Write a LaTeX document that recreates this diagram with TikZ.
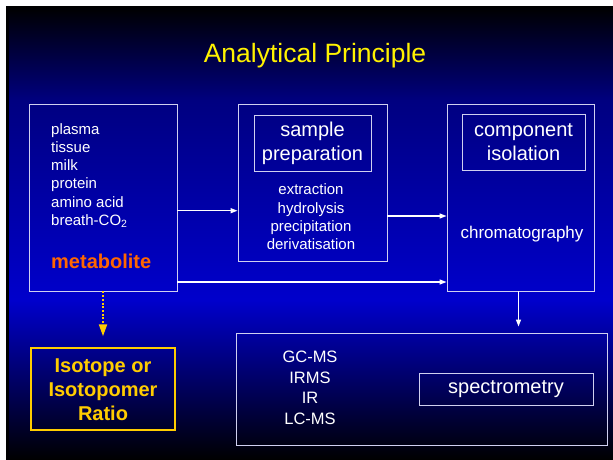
\documentclass[tikz,border=0pt]{standalone}
\usepackage{fontspec}
\setmainfont{Liberation Sans}
\usetikzlibrary{arrows.meta}
\definecolor{edge}{HTML}{D0D0F0}
\definecolor{gold}{HTML}{FFCC00}
\definecolor{orng}{HTML}{FF6600}
\definecolor{navy}{HTML}{000080}
\definecolor{brite}{HTML}{0000CC}
\begin{document}
\begin{tikzpicture}[x=1pt,y=-1pt,
  box/.style={draw=edge,line width=0.9pt,inner sep=0pt},
  lst/.style={text=white,inner sep=0pt,align=center,font=\fontsize{15}{18.3}\selectfont},
  hd/.style={box,text=white,align=center,font=\fontsize{20}{24}\selectfont},
  a/.style={-{Triangle[length=7pt,width=5pt]},white,line width=1.3pt},
  ya/.style={-{Triangle[length=12pt,width=8pt]},gold,line width=2pt,dash pattern=on 2pt off 1.7pt}]
% background
\fill[white] (0,0) rectangle (613,460);
\shade[top color=black,bottom color=navy] (6,7) rectangle (613,101);
\shade[top color=navy,bottom color=brite] (6,100) rectangle (613,301);
\shade[top color=brite,bottom color=black] (6,300) rectangle (613,460);
\fill[black] (6,7) rectangle (9,460);
\node[text=yellow,font=\fontsize{26.5}{30}\selectfont] (title) at (315,55.5) {Analytical Principle};
% top row, left to right
\node[box,minimum width=148pt,minimum height=187pt] (m) at (103,197.5) {};
\node[lst,align=left,anchor=west] (src) at (51,175.5) {plasma\\tissue\\milk\\protein\\amino acid\\breath-CO\textsubscript{2}};
\node[anchor=west,inner sep=0pt,text=orng,font=\fontsize{20}{24}\selectfont\bfseries] (met) at (51,261.7) {metabolite};
\node[box,minimum width=149pt,minimum height=157pt] (sp) at (312.5,182.5) {};
\node[hd,minimum width=117pt,minimum height=56pt] (sph) at (312.5,143) {sample\\preparation};
\node[lst] (spl) at (311,217) {extraction\\hydrolysis\\precipitation\\derivatisation};
\node[box,minimum width=147pt,minimum height=187pt] (ci) at (520.5,197.5) {};
\node[hd,minimum width=123pt,minimum height=56pt] (cih) at (523.5,142) {component\\isolation};
\node[lst,font=\fontsize{17}{20}\selectfont] (chr) at (522,234) {chromatography};
\draw[a]([yshift=-13.2pt]m.east)--([yshift=-28.2pt]sp.west);
\draw[a]([yshift=-33.5pt]sp.east)--([yshift=-18.5pt]ci.west);
\draw[a]([yshift=-84.5pt]m.east)--([yshift=-84.5pt]ci.west);
% bottom row
\node[box,minimum width=371pt,minimum height=112pt] (sm) at (421.5,389) {};
\node[lst,font=\fontsize{16.5}{20.5}\selectfont] (ms) at (310,388) {GC-MS\\IRMS\\IR\\LC-MS};
\node[hd,minimum width=174pt,minimum height=32pt] (smh) at (506,389.3) {spectrometry};
\draw[a]([xshift=-2pt]ci.south)--([xshift=-2pt,yshift=6pt]ci.south |- sm.north);
% ratio box
\node[draw=gold,line width=2pt,text=gold,align=center,inner sep=0pt,
  minimum width=144pt,minimum height=82pt,font=\fontsize{20}{24}\selectfont\bfseries] (iso) at (103,389.3) {Isotope or\\Isotopomer\\Ratio};
\draw[ya](m.south)--([yshift=11pt]iso.north);
\end{tikzpicture}
\end{document}
